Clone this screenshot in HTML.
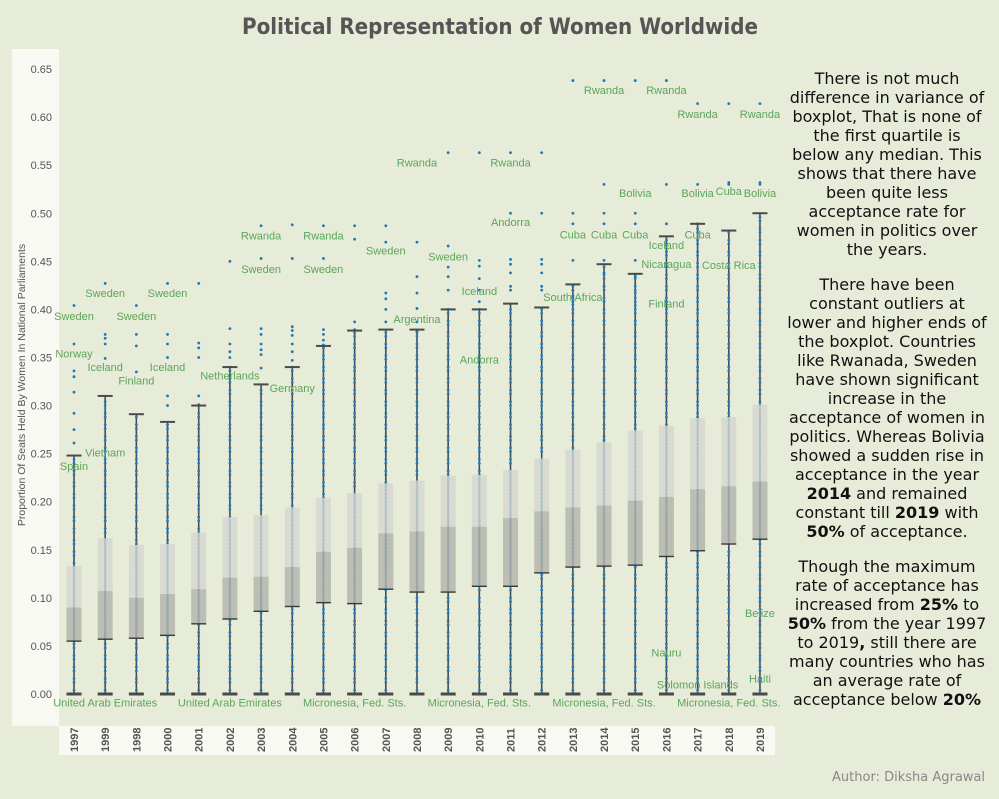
<!DOCTYPE html>
<html><head><meta charset="utf-8"><style>
html,body{margin:0;padding:0;background:#e7ecd9;}
svg{display:block;font-family:"Liberation Sans",sans-serif;}
.note{font-family:"DejaVu Sans","Liberation Sans",sans-serif;font-size:16px;fill:#111;}
</style></head><body>
<svg id="chart" width="999" height="799" viewBox="0 0 999 799" xmlns="http://www.w3.org/2000/svg">
<rect x="0" y="0" width="999" height="799" fill="#e7ecd9"/>
<rect x="12" y="49" width="47" height="677" fill="#f7f9f2"/>
<rect x="59" y="726" width="716" height="29" fill="#f7f9f2"/>
<text x="500" y="34" text-anchor="middle" font-family="DejaVu Sans, Liberation Sans, sans-serif" font-weight="bold" font-size="22" fill="#555" textLength="516" lengthAdjust="spacingAndGlyphs">Political Representation of Women Worldwide</text>
<text transform="translate(25,385) rotate(-90)" text-anchor="middle" font-size="10.5" fill="#555">Proportion Of Seats Held By Women In National Parliaments</text>
<g id="yticks"></g><g id="whiskers"></g><g id="dots"></g><g id="boxes"></g><g id="labels"></g><g id="xticks"></g>
<g class="note" text-anchor="middle">
<text x="887" y="84">There is not much</text>
<text x="887" y="103">difference in variance of</text>
<text x="887" y="122">boxplot, That is none of</text>
<text x="887" y="141">the first quartile is</text>
<text x="887" y="160">below any median. This</text>
<text x="887" y="179">shows that there have</text>
<text x="887" y="198">been quite less</text>
<text x="887" y="217">acceptance rate for</text>
<text x="887" y="236">women in politics over</text>
<text x="887" y="255">the years.</text>
<text x="887" y="290">There have been</text>
<text x="887" y="309">constant outliers at</text>
<text x="887" y="328">lower and higher ends of</text>
<text x="887" y="347">the boxplot. Countries</text>
<text x="887" y="366">like Rwanada, Sweden</text>
<text x="887" y="385">have shown significant</text>
<text x="887" y="404">increase in the</text>
<text x="887" y="423">acceptance of women in</text>
<text x="887" y="442">politics. Whereas Bolivia</text>
<text x="887" y="461">showed a sudden rise in</text>
<text x="887" y="480">acceptance in the year</text>
<text x="887" y="499"><tspan font-weight="bold">2014</tspan> and remained</text>
<text x="887" y="518">constant till <tspan font-weight="bold">2019</tspan> with</text>
<text x="887" y="537"><tspan font-weight="bold">50%</tspan> of acceptance.</text>
<text x="887" y="572">Though the maximum</text>
<text x="887" y="591">rate of acceptance has</text>
<text x="887" y="610">increased from <tspan font-weight="bold">25%</tspan> to</text>
<text x="887" y="629"><tspan font-weight="bold">50%</tspan> from the year 1997</text>
<text x="887" y="648">to 2019<tspan font-weight="bold">,</tspan> still there are</text>
<text x="887" y="667">many countries who has</text>
<text x="887" y="686">an average rate of</text>
<text x="887" y="705">acceptance below <tspan font-weight="bold">20%</tspan></text>
</g>
<text x="985" y="781" text-anchor="end" font-family="DejaVu Sans, Liberation Sans, sans-serif" font-size="13" fill="#888">Author: Diksha Agrawal</text>
</svg>
<script>
const years = ["1997","1999","1998","2000","2001","2002","2003","2004","2005","2006","2007","2008","2009","2010","2011","2012","2013","2014","2015","2016","2017","2018","2019"];
const whiskerHigh = [0.248,0.310,0.291,0.283,0.300,0.340,0.322,0.340,0.362,0.378,0.379,0.379,0.400,0.400,0.406,0.402,0.426,0.447,0.437,0.476,0.489,0.482,0.500];
const q3 = [0.133,0.162,0.155,0.156,0.168,0.184,0.186,0.194,0.204,0.209,0.219,0.222,0.227,0.228,0.233,0.245,0.254,0.262,0.274,0.279,0.287,0.288,0.301];
const medians = [0.090,0.107,0.100,0.104,0.109,0.121,0.122,0.132,0.148,0.152,0.167,0.169,0.174,0.174,0.183,0.190,0.194,0.196,0.201,0.205,0.213,0.216,0.221];
const q1 = [0.055,0.057,0.058,0.061,0.073,0.078,0.086,0.091,0.095,0.094,0.109,0.106,0.106,0.112,0.112,0.126,0.132,0.133,0.134,0.143,0.149,0.156,0.161];
const outliers = [
 [0.404,0.364,0.336,0.330,0.314,0.292,0.275,0.261],
 [0.427,0.374,0.370,0.364,0.349],
 [0.404,0.374,0.362,0.335],
 [0.427,0.374,0.364,0.350,0.310,0.300],
 [0.427,0.365,0.360,0.350,0.310,0.301],
 [0.450,0.380,0.364,0.356,0.350],
 [0.487,0.453,0.380,0.374,0.364,0.358,0.353,0.339],
 [0.488,0.453,0.382,0.378,0.373,0.364,0.356,0.347],
 [0.487,0.453,0.379,0.374,0.368,0.363],
 [0.487,0.473,0.387,0.379],
 [0.487,0.470,0.417,0.411,0.400,0.387],
 [0.470,0.434,0.417,0.401,0.387,0.377],
 [0.563,0.466,0.444,0.434,0.420],
 [0.563,0.451,0.445,0.432,0.420,0.408],
 [0.563,0.500,0.452,0.447,0.438,0.424,0.420],
 [0.563,0.500,0.452,0.447,0.438,0.424,0.420],
 [0.638,0.500,0.489,0.451,0.420,0.414,0.405],
 [0.638,0.530,0.500,0.489,0.451,0.438,0.424],
 [0.638,0.500,0.489,0.451,0.434,0.417,0.404],
 [0.638,0.530,0.489],
 [0.614,0.530,0.489],
 [0.614,0.530,0.532],
 [0.614,0.530,0.532]
];
const labelText = ["Sweden","Sweden","Sweden","Sweden","Norway","Iceland","Finland","Iceland","Spain","Vietnam","Netherlands","Germany","Rwanda","Rwanda","Sweden","Sweden","Sweden","Sweden","Rwanda","Rwanda","Argentina","Iceland","Andorra","Andorra","Cuba","Cuba","Cuba","South Africa","Rwanda","Rwanda","Rwanda","Rwanda","Bolivia","Bolivia","Cuba","Bolivia","Cuba","Iceland","Nicaragua","Costa Rica","Finland","Belize","Nauru","Solomon Islands","Haiti","United Arab Emirates","United Arab Emirates","Micronesia, Fed. Sts.","Micronesia, Fed. Sts.","Micronesia, Fed. Sts.","Micronesia, Fed. Sts."];
const labelYear = [0,1,2,3,0,1,2,3,0,1,5,7,6,8,6,8,10,12,11,14,11,13,13,14,16,17,18,16,17,19,20,22,18,20,21,22,20,19,19,21,19,22,19,20,22,1,5,9,13,17,21];
const labelValue = [0.393,0.417,0.393,0.417,0.354,0.340,0.326,0.340,0.237,0.251,0.331,0.318,0.477,0.477,0.442,0.442,0.461,0.455,0.553,0.553,0.390,0.419,0.348,0.491,0.478,0.478,0.478,0.413,0.628,0.628,0.603,0.603,0.521,0.521,0.523,0.521,0.478,0.467,0.447,0.446,0.406,0.084,0.043,0.010,0.016,-0.009,-0.009,-0.009,-0.009,-0.009,-0.009];
const yTicks = [0,0.05,0.10,0.15,0.20,0.25,0.30,0.35,0.40,0.45,0.50,0.55,0.60,0.65];

const NS="http://www.w3.org/2000/svg";
function y(v){return 694 - v*961.5;}
function x(i){return 74 + i*31.18;}
function mk(tag,attrs,parent){const e=document.createElementNS(NS,tag);for(const k in attrs)e.setAttribute(k,attrs[k]);parent.appendChild(e);return e;}
const gY=document.getElementById('yticks'),gW=document.getElementById('whiskers'),gD=document.getElementById('dots'),gB=document.getElementById('boxes'),gL=document.getElementById('labels'),gX=document.getElementById('xticks');
yTicks.forEach(t=>{
  const e=mk('text',{x:52,y:y(t)+4,'text-anchor':'end','font-size':11,fill:'#555'},gY);
  
  
  e.textContent=t.toFixed(2);
});
years.forEach((yr,i)=>{
  const cx=x(i);
  const w=mk('line',{x1:cx,x2:cx,y1:y(0),y2:y(whiskerHigh[i]),stroke:'#4a4a4a','stroke-width':1.6},gW);
  
  
  const g=mk('g',{},gD);
  
  
  for(let v=0; v<=whiskerHigh[i]+1e-9; v+=0.004){
    const inBox = v>=q1[i]&&v<=q3[i];
    if(!inBox && Math.round(v*1000)%12===8) continue;
    mk('circle',{cx:cx,cy:y(v),r:1.4,fill:'#2479b8'},g);
  }
  outliers[i].forEach(v=>{
    const c=mk('circle',{cx:cx,cy:y(v),r:1.4,fill:'#1f77b4'},g);
    
    
  });
  const b=mk('g',{},gB);
  
  
  mk('rect',{x:cx-7.5,y:y(q3[i]),width:15,height:y(medians[i])-y(q3[i]),fill:'#d6d7d0','fill-opacity':0.8},b);
  mk('rect',{x:cx-7.5,y:y(medians[i]),width:15,height:y(q1[i])-y(medians[i]),fill:'#b2b3ab','fill-opacity':0.82},b);
  mk('line',{x1:cx-7.5,x2:cx+7.5,y1:y(q1[i]),y2:y(q1[i]),stroke:'#3a3a3a','stroke-width':1.4},b);
  mk('line',{x1:cx-7.5,x2:cx+7.5,y1:y(whiskerHigh[i]),y2:y(whiskerHigh[i]),stroke:'#4a4a4a','stroke-width':2},b);
  mk('line',{x1:cx-7.5,x2:cx+7.5,y1:y(0),y2:y(0),stroke:'#4a4a4a','stroke-width':3},b);
  const t=mk('text',{transform:`translate(${cx+4},${752}) rotate(-90)`,'font-size':11,'font-weight':'bold',fill:'#555'},gX);
  
  
  t.textContent=yr;
});
labelText.forEach((s,k)=>{
  const t=mk('text',{x:x(labelYear[k]),y:y(labelValue[k])+4,'text-anchor':'middle','font-size':11,fill:'#5aa55a'},gL);
  
  
  t.textContent=s;
});
</script>
</body></html>
